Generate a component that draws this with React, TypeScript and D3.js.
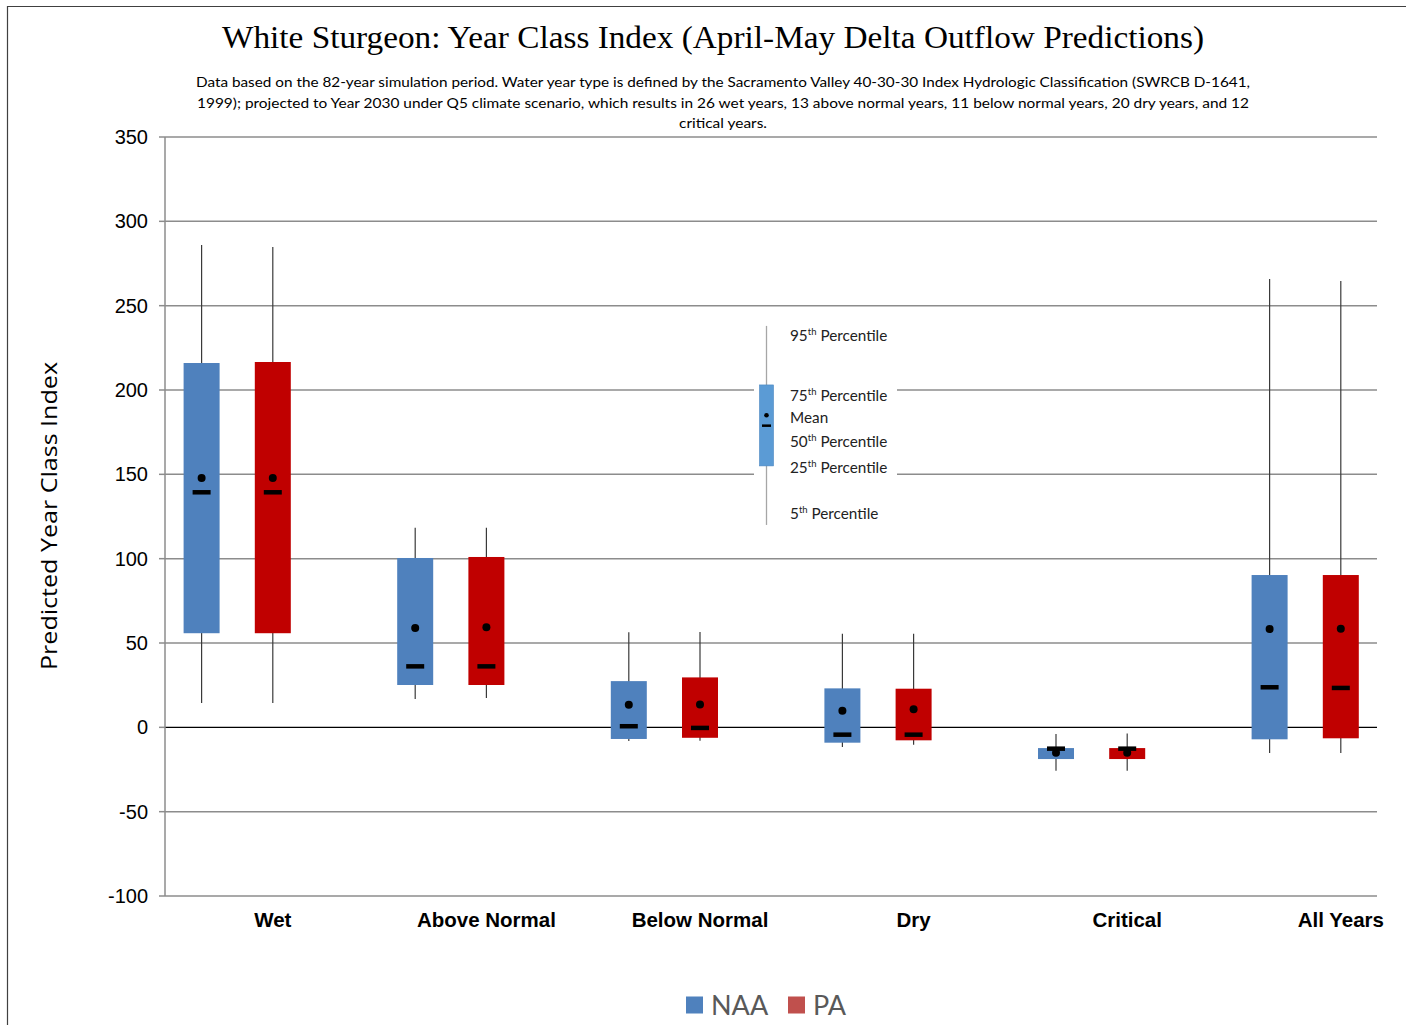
import React from "react";
import * as d3 from "d3";

const categories = ["Wet", "Above Normal", "Below Normal", "Dry", "Critical", "All Years"];
const naaP5 = [14.4, 16.8, -8.1, -11.7, -25.7, -15.2];
const naaP25 = [55.8, 25.1, -6.9, -9.1, -18.8, -7.1];
const naaP50 = [139.5, 36.3, 0.8, -4.2, -12.5, 23.9];
const naaMean = [147.8, 58.9, 13.4, 9.9, -15.0, 58.3];
const naaP75 = [216.0, 100.4, 27.4, 23.1, -12.3, 90.3];
const naaP95 = [286.0, 118.3, 56.3, 55.5, -4.0, 265.8];

const paP5 = [14.4, 17.4, -7.9, -10.3, -25.7, -15.2];
const paP25 = [55.8, 25.1, -6.2, -7.7, -18.8, -6.5];
const paP50 = [139.5, 36.3, -0.2, -4.2, -12.5, 23.5];
const paMean = [147.8, 59.4, 13.6, 10.7, -15.0, 58.5];
const paP75 = [216.6, 101.0, 29.6, 22.9, -12.3, 90.3];
const paP95 = [284.8, 118.3, 56.5, 55.5, -3.6, 264.6];

const yTicks = [-100, -50, 0, 50, 100, 150, 200, 250, 300, 350];

const seriesNames = ["NAA", "PA"];
const seriesColors = ["#4F81BD", "#C00000"];
const legendColors = ["#4F81BD", "#C0504D"];

const titleText = "White Sturgeon: Year Class Index (April-May Delta Outflow Predictions)";
const subtitleLines = [
  "Data based on the 82-year simulation period.  Water year type is defined by the Sacramento Valley 40-30-30 Index Hydrologic Classification (SWRCB D-1641,",
  "1999); projected to Year 2030 under Q5 climate scenario, which results in 26 wet years, 13 above normal years, 11 below normal years, 20 dry years, and 12",
  "critical years.",
];
const subtitleWidths = [1054, 1052, 88];

const insetP5 = 120;
const insetP25 = 155;
const insetP50 = 179;
const insetMean = 185;
const insetP75 = 203;
const insetP95 = 238;
const insetLabels = [
  { sup: "95", suf: "th", rest: " Percentile", v: 233 },
  { sup: "75", suf: "th", rest: " Percentile", v: 197.5 },
  { sup: "", suf: "", rest: "Mean", v: 184.5 },
  { sup: "50", suf: "th", rest: " Percentile", v: 170.5 },
  { sup: "25", suf: "th", rest: " Percentile", v: 155 },
  { sup: "5", suf: "th", rest: " Percentile", v: 127.5 },
];

const W = 1406;
const H = 1025;
const plotLeft = 165;
const plotRight = 1377;

export default function App() {
  const y = d3.scaleLinear().domain([-100, 350]).range([896, 137]);
  const bandW = 213.6;
  const x = d3
    .scaleBand<string>()
    .domain(categories)
    .range([166, 166 + bandW * categories.length])
    .paddingInner(0)
    .paddingOuter(0);
  const slot = x.bandwidth() / 3;
  const boxW = 36;

  const series = [
    { p5: naaP5, p25: naaP25, p50: naaP50, mean: naaMean, p75: naaP75, p95: naaP95 },
    { p5: paP5, p25: paP25, p50: paP50, mean: paMean, p75: paP75, p95: paP95 },
  ];

  const calibri = "Lato, 'Open Sans', sans-serif";
  const arial = "'Liberation Sans', Arial, sans-serif";

  const insetX = 766.5;

  return (
    <svg
      width={W}
      height={H}
      viewBox={`0 0 ${W} ${H}`}
      style={{ display: "block", margin: 0, position: "absolute", left: 0, top: 0 }}
    >
      <rect x={0} y={0} width={W} height={H} fill="#fff" />
      {/* outer frame */}
      <line x1={7.5} y1={6} x2={7.5} y2={H} stroke="#404040" strokeWidth={1.2} />
      <line x1={7} y1={6.5} x2={W} y2={6.5} stroke="#404040" strokeWidth={1.2} />

      {/* title */}
      <text
        x={713}
        y={48}
        textAnchor="middle"
        fontFamily="'Liberation Serif', 'Times New Roman', serif"
        fontSize={32.5}
        fill="#000"
        textLength={982}
        lengthAdjust="spacingAndGlyphs"
      >
        {titleText}
      </text>
      {subtitleLines.map((t, i) => (
        <text
          key={i}
          x={723}
          y={87 + i * 20.5}
          textAnchor="middle"
          fontFamily={calibri}
          fontSize={14}
          fill="#000"
          textLength={subtitleWidths[i]}
          lengthAdjust="spacingAndGlyphs"
        >
          {t}
        </text>
      ))}

      {/* gridlines */}
      {yTicks.map((t) => (
        <g key={t}>
          <line
            x1={plotLeft}
            x2={plotRight}
            y1={y(t)}
            y2={y(t)}
            stroke={t === 0 ? "#000" : "#8c8c8c"}
            strokeWidth={t === 0 ? 1.3 : 1.5}
          />
          <line x1={plotLeft - 6} x2={plotLeft} y1={y(t)} y2={y(t)} stroke="#8c8c8c" strokeWidth={1.5} />
          <text x={148} y={y(t) + 7} textAnchor="end" fontFamily={arial} fontSize={20} fill="#000">
            {t}
          </text>
        </g>
      ))}
      <line x1={plotLeft} x2={plotLeft} y1={y(350)} y2={y(-100)} stroke="#8c8c8c" strokeWidth={1.5} />

      {/* y axis title */}
      <text
        transform={`translate(57,516) rotate(-90)`}
        textAnchor="middle"
        fontFamily="'Open Sans', 'Noto Sans', sans-serif"
        fontSize={22}
        fill="#000"
        textLength={308}
        lengthAdjust="spacingAndGlyphs"
      >
        Predicted Year Class Index
      </text>

      {/* boxes */}
      {series.map((s, si) =>
        categories.map((c, ci) => {
          const cx = (x(c) as number) + slot * (si + 0.5);
          return (
            <g key={`${si}-${ci}`}>
              <line x1={cx} x2={cx} y1={y(s.p95[ci])} y2={y(s.p5[ci])} stroke="#3a3a3a" strokeWidth={1.2} />
              <rect
                x={cx - boxW / 2}
                y={y(s.p75[ci])}
                width={boxW}
                height={y(s.p25[ci]) - y(s.p75[ci])}
                fill={seriesColors[si]}
              />
              <rect x={cx - 9} y={y(s.p50[ci]) - 2} width={18} height={4.5} fill="#000" />
              <circle cx={cx} cy={y(s.mean[ci])} r={4} fill="#000" />
            </g>
          );
        })
      )}

      {/* category labels */}
      {categories.map((c) => (
        <text
          key={c}
          x={(x(c) as number) + x.bandwidth() / 2}
          y={927}
          textAnchor="middle"
          fontFamily={arial}
          fontWeight="bold"
          fontSize={20.5}
          fill="#000"
        >
          {c}
        </text>
      ))}

      {/* inset legend */}
      <rect x={754} y={320} width={143} height={212} fill="#fff" />
      <line x1={insetX} x2={insetX} y1={y(insetP95)} y2={y(insetP5)} stroke="#a6a6a6" strokeWidth={1.3} />
      <rect x={759.5} y={y(insetP75)} width={14} height={y(insetP25) - y(insetP75)} fill="#5B9BD5" stroke="#4a86c0" strokeWidth={0.6} />
      <rect x={762} y={y(insetP50) - 1} width={9} height={2.5} fill="#000" />
      <circle cx={insetX} cy={y(insetMean)} r={2.3} fill="#000" />
      {insetLabels.map((l, i) => (
        <text key={i} x={790} y={y(l.v) + 7} fontFamily={calibri} fontSize={15.3} fill="#222">
          {l.sup ? (
            <>
              <tspan>{l.sup}</tspan>
              <tspan dy={-6} fontSize={9.5}>
                {l.suf}
              </tspan>
              <tspan dy={6}>{l.rest}</tspan>
            </>
          ) : (
            <tspan>{l.rest}</tspan>
          )}
        </text>
      ))}

      {/* bottom legend */}
      {seriesNames.map((n, i) => {
        const lx = i === 0 ? 686 : 788;
        return (
          <g key={n}>
            <rect x={lx} y={996.5} width={17} height={17} fill={legendColors[i]} />
            <text x={lx + 25} y={1015} fontFamily={calibri} fontSize={27} fill="#595959">
              {n}
            </text>
          </g>
        );
      })}
    </svg>
  );
}
